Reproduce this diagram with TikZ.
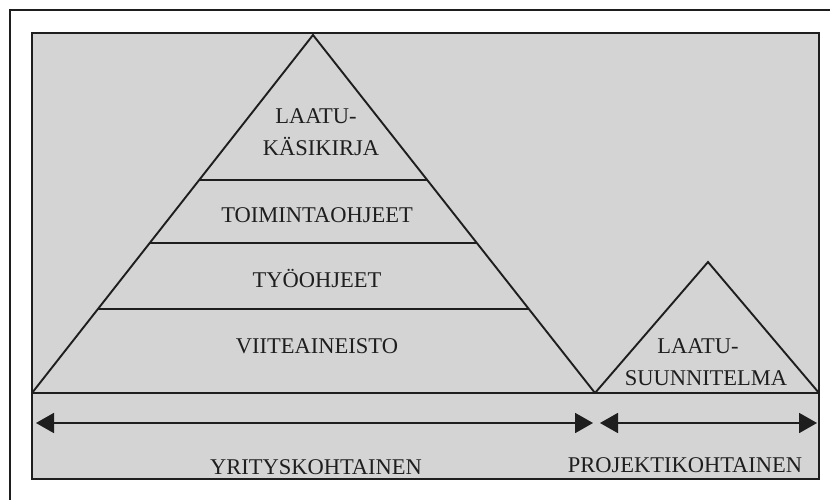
\documentclass[tikz,border=0pt]{standalone}
\usepackage{fontspec}
\setmainfont{Liberation Serif}
\usetikzlibrary{calc,arrows.meta}
\definecolor{paper}{RGB}{212,212,212}
\definecolor{ink}{RGB}{30,30,30}
\tikzset{
  edge/.style={draw=ink, line width=1.9pt},
  lbl/.style={text=ink, font=\fontsize{22.5}{26}\selectfont, anchor=base, inner sep=0pt},
  span/.style={draw=ink, line width=1.9pt, {Triangle[length=18pt,width=20pt]}-{Triangle[length=18pt,width=20pt]}}
}
\begin{document}
\begin{tikzpicture}[x=1pt,y=-1pt]
\useasboundingbox (0,0) rectangle (830,500);
\fill[white] (0,0) rectangle (830,500);
% outer frame (partial)
\draw[ink, line width=1.6pt] (10,500) -- (10,10) -- (830,10);
% inner panel
\fill[paper] (32,33) rectangle (819,479);
\draw[edge] (32,33) rectangle (819,479);
% big pyramid
\coordinate (A) at (313,35);
\coordinate (BL) at (32,393);
\coordinate (BR) at (595,393);
\coordinate (E) at (819,393);
\draw[edge, line join=miter] (BL) -- (A) -- (BR);
\draw[edge] (BL) -- (E);
\foreach \t/\n in {0.405/1,0.581/2,0.765/3}{
  \draw[edge] ($(A)!\t!(BL)$) -- ($(A)!\t!(BR)$);
}
% small pyramid
\coordinate (S) at (708,262);
\draw[edge, line join=miter] (BR) -- (S) -- (E);
% labels
\node[lbl] (q1) at (316,124) {LAATU-};
\node[lbl] (q2) at (321,156) {KÄSIKIRJA};
\node[lbl] (toim) at (317,222) {TOIMINTAOHJEET};
\node[lbl] (tyo) at (317,287) {TYÖOHJEET};
\node[lbl] (viite) at (317,353) {VIITEAINEISTO};
\node[lbl] (p1) at (698,353) {LAATU-};
\node[lbl] (p2) at (706,385) {SUUNNITELMA};
\node[lbl] (yr) at (316,474) {YRITYSKOHTAINEN};
\node[lbl] (pr) at (685,472) {PROJEKTIKOHTAINEN};
% spans
\coordinate (a1) at (36,423);
\coordinate (a2) at (593,423);
\coordinate (b1) at (600,423);
\coordinate (b2) at (817,423);
\draw[span] (a1) -- (a2);
\draw[span] (b1) -- (b2);
\end{tikzpicture}
\end{document}
